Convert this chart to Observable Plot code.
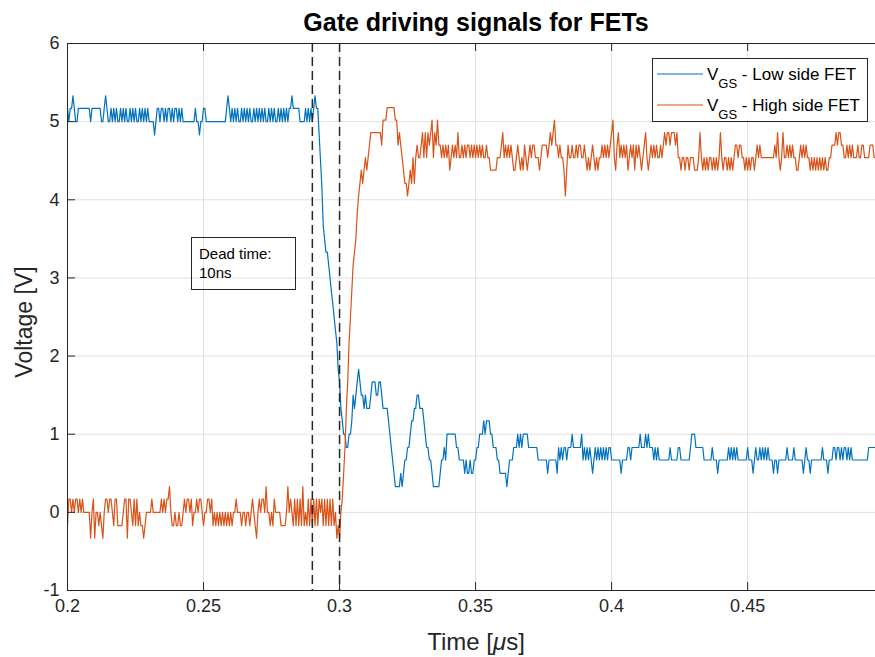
<!DOCTYPE html>
<html>
<head>
<meta charset="utf-8">
<script src="https://cdn.jsdelivr.net/npm/d3@7"></script>
<script src="https://cdn.jsdelivr.net/npm/@observablehq/plot@0.6"></script>
<style>
  html, body { margin: 0; padding: 0; background: #fff; }
  #chart svg { display: block; }
</style>
</head>
<body>
<div id="chart"></div>
<script>
// ---- data ----
const startTime = 0.2;      // µs, first sample
const sampleStep = 0.0005;  // µs between samples (0.5 ns)

// V_GS of the low side FET, volts
const lowSide = [
  5.17,5,5.17,5.17,5.33,5.17,5,5,5.17,5.17,
  5.17,5.17,5.17,5.17,5.17,5.17,5.17,5,5.17,5.17,
  5.17,5.17,5.17,5.17,5.17,5,5,5.17,5.33,5.17,
  5,5,5.17,5,5.17,5,5.17,5,5,5.17,
  5,5.17,5,5.17,5,5,5.17,5,5.17,5,
  5.17,5,5,5.17,5,5.17,5,5.17,5,5.17,
  5,5,5,5,4.83,5,5.17,5.17,5,5.17,
  5.17,5,5.17,5,5.17,5.17,5,5.17,5,5.17,
  5.17,5,5.17,5,5.17,5,5,5,5,5,
  5,5,5,5,5.17,5,5,4.83,5,5,
  5.17,5.17,5,5,5,5,5,5,5,5,
  5,5,5,5,5,5,5,5.17,5.33,5.17,
  5,5.17,5,5.17,5,5.17,5,5,5.17,5,
  5.17,5,5.17,5,5.17,5,5,5.17,5,5.17,
  5,5.17,5,5.17,5,5.17,5,5,5.17,5,
  5.17,5,5.17,5,5,5.17,5,5.17,5,5.17,
  5,5.17,5,5.17,5.17,5.33,5.17,5.17,5.17,5.17,
  5.17,5,5,5,5,5.17,5,5.17,5,5.17,
  5,5.17,5.33,5.17,5.17,4.83,4.5,4.17,3.67,3.5,
  3.33,3.33,3.17,3,2.83,2.67,2.5,2.33,2.17,1.83,
  1.67,1.33,1.17,1,1,0.83,0.83,1,1,1.17,
  1.5,1.33,1.5,1.67,1.83,1.67,1.5,1.5,1.33,1.5,
  1.33,1.33,1.33,1.5,1.67,1.67,1.67,1.5,1.5,1.67,
  1.67,1.5,1.33,1.33,1.33,1.33,1.17,1,0.83,0.67,
  0.5,0.33,0.33,0.33,0.33,0.5,0.33,0.5,0.67,0.67,
  0.83,0.83,1,1.17,1.17,1.33,1.33,1.5,1.5,1.33,
  1.33,1.33,1.17,1,0.83,0.83,0.67,0.67,0.5,0.33,
  0.33,0.33,0.33,0.33,0.5,0.67,0.67,0.83,0.67,1,
  1,1,1,1,1,1,0.83,0.83,0.67,0.67,
  0.67,0.67,0.5,0.67,0.5,0.5,0.67,0.5,0.5,0.67,
  0.67,0.83,0.83,1,1,1,1.17,1,1.17,1.17,
  1.17,1,1,0.83,0.83,0.83,0.67,0.67,0.5,0.5,
  0.5,0.5,0.5,0.33,0.5,0.67,0.67,0.67,0.83,0.83,
  0.83,1,0.83,1,0.83,1,1,1,1,0.83,
  0.83,0.83,0.83,0.83,0.83,0.83,0.67,0.67,0.67,0.67,
  0.67,0.67,0.67,0.5,0.67,0.67,0.67,0.67,0.67,0.67,
  0.5,0.83,0.67,0.83,0.67,0.83,0.83,0.67,0.83,0.83,
  0.83,1,0.83,0.83,0.83,0.83,0.83,0.83,1,0.67,
  0.83,0.67,0.83,0.67,0.83,0.67,0.5,0.67,0.83,0.67,
  0.83,0.67,0.83,0.67,0.83,0.67,0.83,0.67,0.83,0.83,
  0.67,0.67,0.67,0.67,0.67,0.67,0.67,0.5,0.67,0.67,
  0.67,0.67,0.83,0.83,0.67,0.83,0.83,0.83,0.83,0.83,
  0.83,1,0.83,0.83,0.83,1,0.83,1,0.83,0.83,
  0.83,0.67,0.83,0.67,0.83,0.67,0.67,0.67,0.67,0.67,
  0.67,0.67,0.67,0.83,0.67,0.67,0.67,0.67,0.67,0.83,
  0.83,0.67,0.67,0.67,0.67,0.67,0.67,0.67,0.83,1,
  1,1,0.83,0.83,0.83,0.83,0.83,0.83,0.67,0.67,
  0.67,0.67,0.67,0.67,0.83,0.67,0.67,0.67,0.5,0.67,
  0.67,0.67,0.67,0.67,0.67,0.67,0.83,0.67,0.83,0.67,
  0.83,0.67,0.83,0.67,0.67,0.67,0.67,0.67,0.67,0.67,
  0.83,0.67,0.67,0.67,0.5,0.67,0.83,0.67,0.67,0.83,
  0.67,0.83,0.67,0.83,0.67,0.83,0.67,0.67,0.67,0.5,
  0.67,0.67,0.5,0.67,0.67,0.67,0.67,0.67,0.67,0.83,
  0.67,0.67,0.67,0.67,0.83,0.67,0.67,0.67,0.67,0.67,
  0.67,0.5,0.67,0.83,0.67,0.67,0.5,0.67,0.67,0.67,
  0.67,0.67,0.67,0.67,0.67,0.83,0.67,0.67,0.67,0.5,
  0.67,0.67,0.67,0.83,0.83,0.67,0.83,0.83,0.67,0.83,
  0.67,0.83,0.83,0.67,0.83,0.67,0.83,0.67,0.67,0.67,
  0.67,0.67,0.67,0.67,0.67,0.67,0.67,0.67,0.67,0.83,
  0.83,0.83,0.83,0.83,0.83
];

// V_GS of the high side FET, volts
const highSide = [
  -0.17,0.17,0.17,0,0.17,0,0.17,0.17,0,0.17,
  0,0.17,0,0,0,0,0,-0.33,0,0.17,
  -0.33,0,0,-0.17,0,-0.17,-0.33,0,0.17,0.17,
  0,0.17,0.17,0,-0.17,0.17,0.17,-0.17,-0.17,-0.17,
  -0.17,0,0.17,0.17,-0.33,0.17,0.17,0,-0.17,0.17,
  -0.17,0.17,-0.17,0,-0.17,-0.17,-0.33,-0.17,0,0,
  0,0,0.17,0,0,0,0,0,0,0.17,
  0,0.17,0,0.17,0.17,0.33,0,-0.17,-0.17,0,
  -0.17,-0.17,0,-0.17,-0.17,0,0.17,0,0.17,0.17,
  0,0.17,-0.17,0,0,0.17,0,0.17,0.17,0,
  -0.17,0,0,0.17,0.17,0,0.17,-0.17,0,-0.17,
  0,-0.17,0,-0.17,0,-0.17,0,-0.17,0,-0.17,
  0,-0.17,0,0,0.17,0,0,0,-0.17,0,
  0,-0.17,0,0,-0.17,0,0.17,0,-0.17,-0.33,
  0,0.17,0,0.17,0.17,0,0.33,0,0,-0.17,
  0,-0.17,0.17,0,0,0,0,-0.17,-0.17,-0.17,
  -0.17,0,0.33,0,0.17,0,-0.17,0.17,-0.17,0.17,
  -0.17,0.17,-0.17,0.33,-0.17,0,-0.17,0.17,-0.17,0.17,
  -0.17,0.17,-0.17,0.17,-0.17,0.17,0,0.17,-0.17,0.17,
  -0.17,0.17,-0.17,0.17,-0.17,0.17,-0.17,0,-0.33,-0.17,
  -0.33,0,0.17,0.5,0.83,1.33,1.67,2.17,2.5,2.83,
  3.17,3.33,3.5,3.83,4.05,4.21,4.38,4.21,4.38,4.54,
  4.38,4.54,4.7,4.86,4.86,4.86,4.86,4.86,4.86,4.86,
  4.86,4.7,5.02,5.02,5.02,5.18,5.18,5.18,5.18,5.18,
  5.18,5.02,5.02,4.7,4.86,4.7,4.54,4.38,4.21,4.21,
  4.05,4.21,4.38,4.21,4.54,4.21,4.54,4.7,4.54,4.54,
  4.7,4.86,4.54,4.86,4.54,4.86,4.7,4.86,5.02,4.54,
  4.86,4.7,5.02,4.7,4.7,4.54,4.7,4.54,4.7,4.54,
  4.7,4.38,4.54,4.7,4.54,4.7,4.54,4.86,4.54,4.54,
  4.7,4.54,4.7,4.54,4.7,4.7,4.54,4.7,4.54,4.7,
  4.54,4.7,4.54,4.7,4.54,4.7,4.54,4.54,4.7,4.54,
  4.54,4.38,4.38,4.38,4.38,4.38,4.54,4.54,4.54,4.7,
  4.86,4.54,4.7,4.54,4.7,4.54,4.7,4.54,4.38,4.38,
  4.54,4.7,4.54,4.38,4.54,4.38,4.7,4.54,4.38,4.54,
  4.7,4.54,4.7,4.7,4.54,4.54,4.54,4.38,4.54,4.7,
  4.7,4.7,4.7,4.54,4.7,4.86,4.7,4.86,5.02,4.7,
  4.7,4.54,4.7,4.54,4.54,4.38,4.05,4.38,4.7,4.54,
  4.54,4.7,4.54,4.54,4.7,4.54,4.7,4.7,4.54,4.54,
  4.7,4.54,4.38,4.54,4.38,4.54,4.7,4.54,4.38,4.54,
  4.38,4.54,4.54,4.7,4.54,4.7,4.54,4.7,4.54,4.7,
  4.86,5.02,4.54,4.38,4.7,4.86,4.54,4.7,4.54,4.7,
  4.54,4.7,4.38,4.54,4.7,4.54,4.7,4.38,4.7,4.54,
  4.7,4.54,4.38,4.54,4.7,4.86,4.54,4.38,4.54,4.7,
  4.54,4.7,4.54,4.7,4.54,4.54,4.7,4.54,4.7,4.86,
  4.7,4.86,4.86,4.7,4.86,4.86,4.86,4.7,4.86,4.54,
  4.54,4.38,4.54,4.54,4.38,4.54,4.54,4.38,4.54,4.54,
  4.54,4.38,4.38,4.38,4.54,4.86,4.54,4.38,4.54,4.38,
  4.54,4.38,4.54,4.54,4.38,4.54,4.38,4.54,4.38,4.54,
  4.86,4.54,4.38,4.54,4.54,4.38,4.54,4.38,4.54,4.38,
  4.54,4.7,4.7,4.54,4.7,4.7,4.54,4.54,4.38,4.54,
  4.38,4.54,4.38,4.54,4.54,4.38,4.54,4.7,4.54,4.7,
  4.54,4.54,4.54,4.54,4.54,4.54,4.54,4.54,4.54,4.54,
  4.7,4.54,4.86,4.54,4.38,4.54,4.86,4.54,4.54,4.7,
  4.54,4.7,4.54,4.7,4.54,4.54,4.38,4.38,4.54,4.7,
  4.54,4.7,4.54,4.7,4.54,4.54,4.38,4.54,4.38,4.54,
  4.38,4.54,4.38,4.54,4.38,4.54,4.38,4.54,4.38,4.38,
  4.54,4.54,4.7,4.7,4.7,4.86,4.7,4.86,4.86,4.7,
  4.7,4.54,4.54,4.7,4.54,4.7,4.54,4.7,4.54,4.54,
  4.54,4.7,4.54,4.54,4.7,4.7,4.54,4.54,4.54,4.54,
  4.7,4.7,4.7,4.54,4.54
];

const deadTimeMarks = [0.29, 0.30];              // µs
const xTicks = [0.2, 0.25, 0.3, 0.35, 0.4, 0.45];
const yTicks = [-1, 0, 1, 2, 3, 4, 5, 6];
const xDomain = [0.2, 0.497];
const yDomain = [-1, 6];
const seriesLabels = ["Low side FET", "High side FET"];
const seriesColors = ["#0072BD", "#D95319"];
const titleText = "Gate driving signals for FETs";
const noteLines = ["Dead time:", "10ns"];

// ---- build tables ----
const lowRows = lowSide.map((v, i) => ({t: startTime + i * sampleStep, v}));
const highRows = highSide.map((v, i) => ({t: startTime + i * sampleStep, v}));

const FONT = '"Liberation Sans", Arial, Helvetica, sans-serif';
const AX = "#262626";
const GRID = "#e1e1e1";

const chart = Plot.plot({
  width: 875,
  height: 657,
  marginTop: 43,
  marginBottom: 67,
  marginLeft: 67,
  marginRight: 0,
  style: {fontFamily: FONT, background: "#fff", color: AX, overflow: "visible"},
  x: {domain: xDomain},
  y: {domain: yDomain},
  marks: [
    Plot.gridX(xTicks, {stroke: GRID, strokeOpacity: 1}),
    Plot.gridY(yTicks, {stroke: GRID, strokeOpacity: 1}),
    Plot.line(lowRows, {x: "t", y: "v", stroke: seriesColors[0], strokeWidth: 1.2}),
    Plot.line(highRows, {x: "t", y: "v", stroke: seriesColors[1], strokeWidth: 1.2}),
    Plot.ruleX(deadTimeMarks, {stroke: AX, strokeWidth: 1.5, strokeDasharray: "9,5"}),
    Plot.tickX(xTicks, {stroke: AX, insetTop: 539}),
    Plot.tickX(xTicks, {stroke: AX, insetBottom: 539}),
    Plot.tickY(yTicks, {stroke: AX, insetRight: 800}),
    Plot.ruleX([xDomain[0]], {stroke: AX}),
    Plot.ruleY(yDomain, {stroke: AX}),
    Plot.axisX(xTicks, {tickSize: 0, tickPadding: 9, fontSize: 18, tickFormat: d => String(d), label: null}),
    Plot.axisY(yTicks, {tickSize: 0, tickPadding: 8, fontSize: 18, tickFormat: d => String(d), label: null})
  ]
});

document.getElementById("chart").appendChild(chart);

// ---- title, axis labels, annotation, legend ----
const svg = d3.select(chart);
const g = svg.append("g").attr("font-family", FONT);

g.append("text")
  .attr("x", 476).attr("y", 31)
  .attr("text-anchor", "middle")
  .attr("font-weight", "bold").attr("font-size", 25).attr("fill", "#000")
  .text(titleText);

const xl = g.append("text")
  .attr("x", 476).attr("y", 650)
  .attr("text-anchor", "middle").attr("font-size", 24).attr("fill", AX);
xl.append("tspan").text("Time [");
xl.append("tspan").attr("font-style", "italic").text("μ");
xl.append("tspan").text("s]");

g.append("text")
  .attr("transform", "translate(32,322) rotate(-90)")
  .attr("text-anchor", "middle").attr("font-size", 23).attr("fill", AX)
  .text("Voltage [V]");

// dead-time note box
g.append("rect")
  .attr("x", 191.5).attr("y", 237.5).attr("width", 104).attr("height", 52)
  .attr("fill", "none").attr("stroke", AX).attr("stroke-width", 1);
noteLines.forEach((s, i) => {
  g.append("text")
    .attr("x", 199).attr("y", 259 + i * 19)
    .attr("text-anchor", "start")
    .attr("font-size", 15).attr("fill", "#000")
    .text(s);
});

// legend
const lg = g.append("g");
lg.append("rect")
  .attr("x", 652.5).attr("y", 58.5).attr("width", 215).attr("height", 63)
  .attr("fill", "#fff").attr("stroke", AX).attr("stroke-width", 1);
seriesLabels.forEach((name, i) => {
  const yy = 74 + i * 31;
  lg.append("line")
    .attr("x1", 657).attr("x2", 703).attr("y1", yy).attr("y2", yy)
    .attr("stroke", seriesColors[i]).attr("stroke-width", 1.2);
  const t = lg.append("text")
    .attr("x", 707).attr("y", yy + 6)
    .attr("text-anchor", "start")
    .attr("font-size", 17).attr("fill", "#000");
  t.append("tspan").text("V");
  t.append("tspan").attr("font-size", 13).attr("dy", 8).text("GS");
  t.append("tspan").attr("dy", -8).text(" - " + name);
});
</script>
</body>
</html>
